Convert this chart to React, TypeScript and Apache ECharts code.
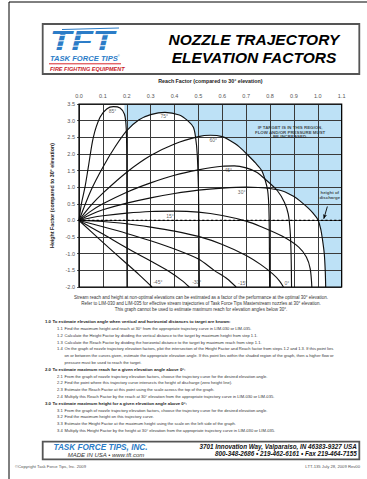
import React, { useEffect, useRef } from 'react';
import * as echarts from 'echarts';

// ---------- data ----------
const X_MIN = 0;
const X_MAX = 1.1;
const X_STEP = 0.1;
const Y_MIN = -2;
const Y_MAX = 3.5;
const Y_STEP = 0.5;

const curve85 = [[0,0],[0.01,0.5],[0.025,1.0],[0.039,1.6],[0.06,2.5],[0.088,3.1],[0.116,3.35],[0.144,3.42],[0.172,3.38],[0.19,3.2],[0.196,2.95],[0.199,2.5],[0.2,1.5],[0.2,0],[0.201,-2]];
const curve75 = [[0,0],[0.05,0.9],[0.1,1.6],[0.15,2.2],[0.2,2.7],[0.25,3.02],[0.3,3.18],[0.36,3.25],[0.42,3.17],[0.455,3.0],[0.479,2.8],[0.488,2.5],[0.495,2.0],[0.5,1.0],[0.502,0],[0.504,-2]];
const curve60 = [[0,0],[0.05,0.45],[0.1,0.82],[0.2,1.45],[0.3,1.95],[0.4,2.3],[0.5,2.52],[0.55,2.56],[0.6,2.52],[0.632,2.4],[0.67,2.22],[0.702,2.0],[0.74,1.72],[0.765,1.5],[0.78,1.2],[0.79,0.9],[0.795,0.4],[0.797,-0.5],[0.798,-2]];
const curve45 = [[0,0],[0.05,0.28],[0.1,0.5],[0.2,0.85],[0.3,1.13],[0.4,1.36],[0.5,1.52],[0.6,1.63],[0.65,1.64],[0.7,1.58],[0.744,1.45],[0.786,1.2],[0.83,0.9],[0.86,0.55],[0.876,0.2],[0.884,-0.3],[0.888,-1.0],[0.89,-2]];
const curve30 = [[0,0],[0.05,0.18],[0.1,0.32],[0.2,0.52],[0.3,0.68],[0.4,0.81],[0.5,0.91],[0.6,0.97],[0.7,1.0],[0.75,0.99],[0.8,0.96],[0.855,0.88],[0.9,0.72],[0.925,0.59],[0.96,0.37],[0.98,0.22],[1.0,0.03],[1.012,-0.25],[1.02,-0.6],[1.027,-1.0],[1.031,-1.5],[1.033,-2]];
const curve15 = [[0,0],[0.05,0.08],[0.1,0.14],[0.2,0.22],[0.3,0.27],[0.4,0.28],[0.5,0.25],[0.6,0.15],[0.7,-0.02],[0.76,-0.18],[0.85,-0.47],[0.92,-0.8],[0.952,-1.1],[0.968,-1.45],[0.975,-2]];
const curve0 = [[0,0],[0.1,-0.03],[0.2,-0.1],[0.3,-0.2],[0.4,-0.32],[0.5,-0.48],[0.6,-0.72],[0.7,-1.05],[0.76,-1.32],[0.81,-1.6],[0.84,-1.82],[0.856,-2]];
const curveM15 = [[0,0],[0.1,-0.19],[0.2,-0.39],[0.3,-0.61],[0.4,-0.86],[0.5,-1.16],[0.566,-1.5],[0.62,-1.75],[0.658,-2]];
const curveM30 = [[0,0],[0.1,-0.41],[0.2,-0.83],[0.3,-1.22],[0.374,-1.52],[0.43,-1.8],[0.462,-2]];
const curveM45 = [[0,0],[0.1,-0.66],[0.2,-1.3],[0.25,-1.62],[0.306,-2]];

const curves = [curve85, curve75, curve60, curve45, curve30, curve15, curve0, curveM15, curveM30, curveM45];

const angleLabels = ['85°', '75°', '60°', '45°', '30°', '15°', '-45°', '-30°', '-15°', '0°'];
const angleLabelPos = [[0.14,3.3],[0.357,3.15],[0.562,2.42],[0.625,1.53],[0.681,0.86],[0.381,0.12],[0.33,-1.85],[0.493,-1.86],[0.685,-1.88],[0.87,-1.88]];

const captionLines = [
  'Stream reach and height at non-optimal elevations can be estimated as a factor of the performance at the optimal 30° elevation.',
  'Refer to LIM-030 and LIM-035 for effective stream trajectories of Task Force Tips Masterstream nozzles at 30° elevation.',
  'This graph cannot be used to estimate maximum reach for elevation angles below 30°.',
];

const instructions: [string, string, boolean][] = [
  ['1.0', 'To estimate elevation angle when vertical and horizontal distances to target are known:', true],
  ['1.1', 'Find the maximum height and reach at 30° from the appropriate trajectory curve in LIM-030 or LIM-035.', false],
  ['1.2', 'Calculate the Height Factor by dividing the vertical distance to the target by maximum height from step 1.1.', false],
  ['1.3', 'Calculate the Reach Factor by dividing the horizontal distance to the target by maximum reach from step 1.1.', false],
  ['1.4', 'On the graph of nozzle trajectory elevation factors, plot the intersection of the Height Factor and Reach factor from steps 1.2 and 1.3. If this point lies', false],
  ['', 'on or between the curves given, estimate the appropriate elevation angle. If this point lies within the shaded region of the graph, then a higher flow or', false],
  ['', 'pressure must be used to reach the target.', false],
  ['2.0', 'To estimate maximum reach for a given elevation angle above 0°:', true],
  ['2.1', 'From the graph of nozzle trajectory elevation factors, choose the trajectory curve for the desired elevation angle.', false],
  ['2.2', 'Find the point where this trajectory curve intersects the height of discharge (zero height line).', false],
  ['2.3', 'Estimate the Reach Factor at this point using the scale across the top of the graph.', false],
  ['2.4', 'Multiply this Reach Factor by the reach at 30° elevation from the appropriate trajectory curve in LIM-030 or LIM-035.', false],
  ['3.0', 'To estimate maximum height for a given elevation angle above 0°:', true],
  ['3.1', 'From the graph of nozzle trajectory elevation factors, choose the trajectory curve for the desired elevation angle.', false],
  ['3.2', 'Find the maximum height on this trajectory curve.', false],
  ['3.3', 'Estimate the Height Factor at the maximum height using the scale on the left side of the graph.', false],
  ['3.4', 'Multiply this Height Factor by the height at 30° elevation from the appropriate trajectory curve in LIM-030 or LIM-035.', false],
];

// ---------- layout / style ----------
const FONT = '"Liberation Sans", Arial, Helvetica, sans-serif';
const BLUE = '#bde1f6';
const TFT_BLUE = '#2b7cc7';
const GRID_LEFT = 79;
const GRID_TOP = 104;
const GRID_W = 262.7;
const GRID_H = 183;
const W = 367;
const H = 479;

// shaded (unreachable) region built from the envelope of the curves
function buildShade(): number[][] {
  const pts: number[][] = [];
  const a85 = curve85.filter((p) => p[0] >= 0.19 && p[1] >= 2.7);
  pts.push([a85[0][0], Y_MAX]);
  pts.push(...a85);
  pts.push(...curve75.filter((p) => p[0] >= 0.2 && p[0] <= 0.488));
  pts.push(...curve60.filter((p) => p[0] > 0.488 && p[0] <= 0.783));
  pts.push(...curve45.filter((p) => p[0] > 0.783 && p[0] <= 0.83));
  pts.push(...curve30.filter((p) => p[0] > 0.83));
  pts.push([X_MAX, Y_MIN]);
  pts.push([X_MAX, Y_MAX]);
  return pts;
}

function txt(x: number, y: number, text: string, size: number, opts: any = {}) {
  return {
    type: 'text',
    x,
    y,
    scaleX: opts.scaleX || 1,
    silent: true,
    z: 10,
    style: {
      text,
      fontSize: size,
      fontFamily: FONT,
      fill: opts.fill || '#222',
      fontWeight: opts.bold ? 'bold' : 'normal',
      fontStyle: opts.italic ? 'italic' : 'normal',
      textAlign: opts.align || 'left',
      textVerticalAlign: 'middle',
    },
  };
}

function buildOption(): any {
  const shade = buildShade();
  const graphics: any[] = [];

  // page border
  graphics.push({ type: 'line', silent: true, shape: { x1: 9, y1: 2, x2: W, y2: 2 }, style: { stroke: '#000', lineWidth: 1 } });
  graphics.push({ type: 'line', silent: true, shape: { x1: 9, y1: 2, x2: 9, y2: H }, style: { stroke: '#000', lineWidth: 1 } });

  // header box
  graphics.push({ type: 'rect', silent: true, shape: { x: 42.7, y: 24, width: 316.6, height: 50 }, style: { fill: '#fff', stroke: '#555', lineWidth: 1.8 } });
  // logo
  graphics.push(txt(50, 41, 'TFT', 27, { bold: true, italic: true, fill: TFT_BLUE, scaleX: 1.3 }));
  [35.5, 41, 46.5].forEach((yy) => {
    graphics.push({ type: 'line', silent: true, z: 11, shape: { x1: 48, y1: yy, x2: 122, y2: yy - 1 }, style: { stroke: '#fff', lineWidth: 1.1 } });
  });
  graphics.push({ type: 'line', silent: true, z: 11, shape: { x1: 62, y1: 29.5, x2: 119, y2: 28 }, style: { stroke: TFT_BLUE, lineWidth: 1 } });
  graphics.push(txt(50, 58.5, 'TASK FORCE TIPS', 7.6, { bold: true, italic: true, fill: TFT_BLUE }));
  graphics.push(txt(117.5, 55.2, '®', 3, { fill: TFT_BLUE }));
  graphics.push({ type: 'line', silent: true, shape: { x1: 49, y1: 63.8, x2: 121, y2: 63.8 }, style: { stroke: '#d7262b', lineWidth: 1 } });
  graphics.push(txt(50, 69.2, 'FIRE FIGHTING EQUIPMENT', 5.5, { bold: true, italic: true, fill: '#c8232a' }));
  // title
  graphics.push(txt(254, 39, 'NOZZLE TRAJECTORY', 15.5, { bold: true, italic: true, fill: '#000', align: 'center' }));
  graphics.push(txt(254, 57, 'ELEVATION FACTORS', 15.5, { bold: true, italic: true, fill: '#000', align: 'center' }));

  // plot border
  graphics.push({ type: 'rect', silent: true, z: 9, shape: { x: GRID_LEFT, y: GRID_TOP, width: GRID_W, height: GRID_H }, style: { fill: 'none', stroke: '#000', lineWidth: 1.2 } });

  // caption
  captionLines.forEach((line, i) => {
    graphics.push(txt(201, 297.7 + i * 5.8, line, 4.5, { align: 'center', fill: '#333' }));
  });

  // instructions
  instructions.forEach(([num, text, bold], i) => {
    const y = 321.7 + i * 6.8;
    if (bold) {
      graphics.push(txt(45, y, num, 4.3, { bold: true, fill: '#222' }));
      graphics.push(txt(52.5, y, text, 4.3, { bold: true, fill: '#222' }));
    } else {
      if (num) graphics.push(txt(57, y, num, 4.1, { fill: '#333' }));
      graphics.push(txt(64.5, y, text, 4.1, { fill: '#333' }));
    }
  });

  // footer
  graphics.push({ type: 'rect', silent: true, shape: { x: 42.7, y: 441.7, width: 316.6, height: 17.6 }, style: { fill: '#fff', stroke: '#555', lineWidth: 1.8 } });
  graphics.push(txt(53.5, 447, 'TASK FORCE TIPS, INC.', 8.2, { bold: true, italic: true, fill: TFT_BLUE }));
  graphics.push(txt(106, 454.6, 'MADE IN USA • www.tft.com', 6, { italic: true, fill: '#333', align: 'center' }));
  graphics.push(txt(356.7, 446.6, '3701 Innovation Way, Valparaiso, IN 46383-9327 USA', 6.3, { bold: true, italic: true, fill: '#111', align: 'right' }));
  graphics.push(txt(356.7, 453.8, '800-348-2686 • 219-462-6161 • Fax 219-464-7155', 6.3, { bold: true, italic: true, fill: '#111', align: 'right' }));
  graphics.push(txt(15, 466, '©Copyright Task Force Tips, Inc. 2009', 4.2, { fill: '#555' }));
  graphics.push(txt(360, 466, 'LTT-135 July 28, 2009 Rev00', 4.2, { fill: '#555', align: 'right' }));

  const curveSeries = curves.map((c) => ({
    type: 'line',
    data: c,
    showSymbol: false,
    smooth: 0.3,
    silent: true,
    z: 3,
    lineStyle: { color: '#111', width: 1.15 },
  }));

  return {
    animation: false,
    backgroundColor: '#fff',
    textStyle: { fontFamily: FONT },
    grid: { left: GRID_LEFT, top: GRID_TOP, width: GRID_W, height: GRID_H, containLabel: false },
    xAxis: {
      type: 'value',
      position: 'top',
      min: X_MIN,
      max: X_MAX,
      interval: X_STEP,
      z: 2,
      axisLine: { show: false },
      axisTick: { show: false },
      splitLine: { show: true, lineStyle: { color: '#3a3a3a', width: 1 } },
      axisLabel: { fontSize: 5.5, color: '#555', margin: 5, formatter: (v: number) => v.toFixed(1) },
      name: 'Reach Factor (compared to 30° elevation)',
      nameLocation: 'middle',
      nameGap: 20.5,
      nameTextStyle: { fontSize: 5.3, fontWeight: 'bold', color: '#222' },
    },
    yAxis: {
      type: 'value',
      min: Y_MIN,
      max: Y_MAX,
      interval: Y_STEP,
      z: 2,
      axisLine: { show: false },
      axisTick: { show: true, length: 2, lineStyle: { color: '#555' } },
      splitLine: { show: true, lineStyle: { color: '#3a3a3a', width: 1 } },
      axisLabel: { fontSize: 5.5, color: '#555', margin: 4, formatter: (v: number) => v.toFixed(1) },
      name: 'Height Factor (compared to 30° elevation)',
      nameLocation: 'middle',
      nameGap: 20,
      nameRotate: 90,
      nameTextStyle: { fontSize: 5.3, fontWeight: 'bold', color: '#222' },
    },
    graphic: graphics,
    series: [
      {
        type: 'custom',
        z: 1,
        silent: true,
        clip: true,
        data: [[0, 0]],
        renderItem: (_p: any, api: any) => ({
          type: 'polygon',
          shape: { points: shade.map((p) => api.coord(p)) },
          style: { fill: BLUE, stroke: 'none' },
        }),
      },
      ...curveSeries,
      {
        type: 'line',
        data: [[X_MIN, 0], [X_MAX, 0]],
        showSymbol: false,
        silent: true,
        z: 3,
        lineStyle: { color: '#000', width: 1.2, type: [2.2, 2.2] },
        markLine: {
          silent: true,
          symbol: ['none', 'arrow'],
          symbolSize: [3, 4.5],
          label: { show: false },
          lineStyle: { color: '#000', width: 0.9, type: 'solid' },
          data: [[{ coord: [1.04, 0.42] }, { coord: [1.025, 0.05] }]],
        },
      },
      {
        type: 'scatter',
        symbolSize: 0,
        silent: true,
        z: 5,
        data: angleLabelPos.map((p, i) => ({ value: p, name: angleLabels[i] })),
        label: { show: true, position: 'inside', formatter: '{b}', fontSize: 5, color: '#333', fontFamily: FONT },
      },
      {
        type: 'scatter',
        symbolSize: 0,
        silent: true,
        z: 5,
        data: [
          { value: [0.884, 2.65], name: 'IF TARGET IS IN THIS REGION,\nFLOW AND/OR PRESSURE MUST\nBE INCREASED.' },
          { value: [1.05, 0.76], name: 'height of\ndischarge' },
        ],
        label: {
          show: true,
          position: 'inside',
          formatter: '{b}',
          fontSize: 4.4,
          lineHeight: 4.6,
          fontWeight: 'bold',
          color: '#222',
          align: 'center',
          fontFamily: FONT,
        },
      },
    ],
  };
}

export default function App() {
  const ref = useRef<HTMLDivElement>(null);
  useEffect(() => {
    if (!ref.current) return;
    const chart = echarts.init(ref.current, null, { renderer: 'svg' });
    chart.setOption(buildOption());
    return () => chart.dispose();
  }, []);
  return (
    <div
      ref={ref}
      style={{ position: 'fixed', left: 0, top: 0, width: W, height: H, background: '#fff' }}
    />
  );
}
